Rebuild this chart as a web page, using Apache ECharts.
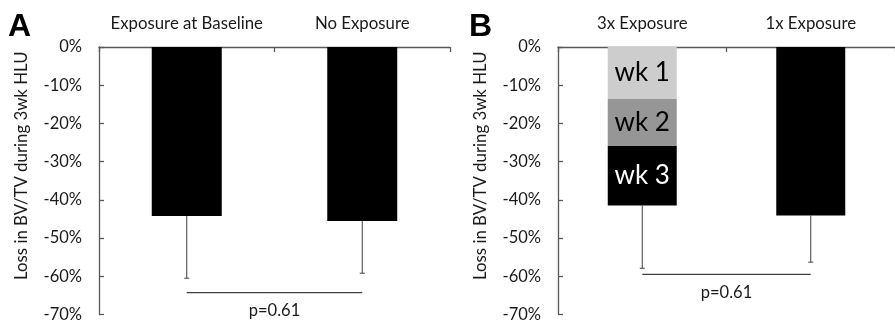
<!DOCTYPE html>
<html>
<head>
<meta charset="utf-8">
<script src="https://cdn.jsdelivr.net/npm/echarts@6/dist/echarts.min.js"></script>
<style>
html,body{margin:0;padding:0;background:#fff;}
#c{width:895px;height:323px;}
</style>
</head>
<body>
<div id="c"></div>
<script>
// ---- data ----
const categoriesA = ['Exposure at Baseline', 'No Exposure'];
const valuesA = [-44.2, -45.5];
const errorLowA = [-60.5, -59.2];
const pLineA = -64.3;
const pTextA = 'p=0.61';

const categoriesB = ['3x Exposure', '1x Exposure'];
const week1B = [-13.6, null];
const week2B = [-12.3, null];
const week3B = [-15.6, -44.1];
const stackLabelsB = ['wk 1', 'wk 2', 'wk 3'];
const errorLowB = [-57.9, -56.3];
const pLineB = -59.5;
const pTextB = 'p=0.61';

const yTicks = [0, -10, -20, -30, -40, -50, -60, -70];
const yTitle = 'Loss in BV/TV during 3wk HLU';

// ---- chart ----
const FONT = 'Lato';
const TXT = '#1a1a1a';
const AX = '#595959';

function totals(...arrs) {
  return arrs[0].map((_, i) => arrs.reduce((s, a) => s + (a[i] || 0), 0));
}
const totalsA = valuesA;
const totalsB = totals(week1B, week2B, week3B);

function xAxis(idx, cats) {
  return {
    type: 'category', gridIndex: idx, data: cats, position: 'top',
    axisLine: { lineStyle: { color: AX, width: 1.3 } },
    axisTick: { show: true, inside: true, length: 5, lineStyle: { color: AX, width: 1.3 } },
    axisLabel: { interval: 0, margin: 15, fontFamily: FONT, fontSize: 16.8, color: TXT }
  };
}
function yAxis(idx) {
  return {
    type: 'value', gridIndex: idx, min: yTicks[yTicks.length - 1], max: yTicks[0], interval: 10,
    name: yTitle, nameLocation: 'middle', nameGap: 69, nameRotate: 90,
    nameTextStyle: { fontFamily: FONT, fontSize: 16.8, color: TXT, padding: [0, 0, 0, 30] },
    axisLine: { show: true, lineStyle: { color: AX, width: 1.3 } },
    axisTick: { show: true, inside: true, length: 5, lineStyle: { color: AX, width: 1.3 } },
    axisLabel: { margin: 17, fontFamily: FONT, fontSize: 16.5, color: TXT, formatter: '{value}%' },
    splitLine: { show: false }
  };
}
function errorSeries(idx, tot, low) {
  return {
    type: 'custom', xAxisIndex: idx, yAxisIndex: idx, z: 5, silent: true,
    data: tot.map((t, i) => [i, t, low[i]]),
    renderItem: function (params, api) {
      const top = api.coord([api.value(0), api.value(1)]);
      const bot = api.coord([api.value(0), api.value(2)]);
      const st = { stroke: '#404040', lineWidth: 1 };
      return {
        type: 'group', children: [
          { type: 'line', shape: { x1: top[0], y1: top[1], x2: bot[0], y2: bot[1] }, style: st },
          { type: 'line', shape: { x1: bot[0] - 2.5, y1: bot[1], x2: bot[0] + 2.5, y2: bot[1] }, style: st }
        ]
      };
    }
  };
}
function pSeries(idx, yv, txt) {
  return {
    type: 'custom', xAxisIndex: idx, yAxisIndex: idx, z: 5, silent: true, clip: false,
    data: [[0, yv]],
    renderItem: function (params, api) {
      const a = api.coord([0, api.value(1)]);
      const b = api.coord([1, api.value(1)]);
      return {
        type: 'group', children: [
          { type: 'line', shape: { x1: a[0], y1: a[1], x2: b[0], y2: b[1] }, style: { stroke: '#404040', lineWidth: 1.3 } },
          { type: 'text', style: { text: txt, x: (a[0] + b[0]) / 2, y: a[1] + 18, align: 'center', verticalAlign: 'middle', fontFamily: FONT, fontSize: 16.5, fill: TXT } }
        ]
      };
    }
  };
}
function stackData(arr, li) {
  return arr.map((v, i) => v === null ? '-' : (i === 0 ? { value: v, label: { show: true, formatter: stackLabelsB[li] } } : v));
}

const chart = echarts.init(document.getElementById('c'), null, { renderer: 'canvas' });
chart.setOption({
  animation: false,
  backgroundColor: '#fff',
  graphic: [
    { type: 'text', left: 8, top: 11, style: { text: 'A', fontFamily: 'Liberation Sans', fontWeight: 'bold', fontSize: 32, fill: '#000' } },
    { type: 'text', left: 469, top: 11, style: { text: 'B', fontFamily: 'Liberation Sans', fontWeight: 'bold', fontSize: 32, fill: '#000' } }
  ],
  grid: [
    { left: 99, top: 47, width: 351, height: 267.6 },
    { left: 558, top: 47, width: 348, height: 267.6 }
  ],
  xAxis: [xAxis(0, categoriesA), xAxis(1, categoriesB)],
  yAxis: [yAxis(0), yAxis(1)],
  series: [
    { type: 'bar', xAxisIndex: 0, yAxisIndex: 0, data: valuesA, barWidth: 70, itemStyle: { color: '#000' } },
    { type: 'bar', xAxisIndex: 1, yAxisIndex: 1, stack: 'b', barWidth: 69, data: stackData(week1B, 0), itemStyle: { color: '#cdcdcd' },
      label: { position: 'inside', fontFamily: FONT, fontSize: 26, color: '#000' } },
    { type: 'bar', xAxisIndex: 1, yAxisIndex: 1, stack: 'b', barWidth: 69, data: stackData(week2B, 1), itemStyle: { color: '#969696' },
      label: { position: 'inside', fontFamily: FONT, fontSize: 26, color: '#000' } },
    { type: 'bar', xAxisIndex: 1, yAxisIndex: 1, stack: 'b', barWidth: 69, data: stackData(week3B, 2), itemStyle: { color: '#000' },
      label: { position: 'inside', fontFamily: FONT, fontSize: 26, color: '#fff' } },
    errorSeries(0, totalsA, errorLowA),
    errorSeries(1, totalsB, errorLowB),
    pSeries(0, pLineA, pTextA),
    pSeries(1, pLineB, pTextB)
  ]
});
</script>
</body>
</html>
